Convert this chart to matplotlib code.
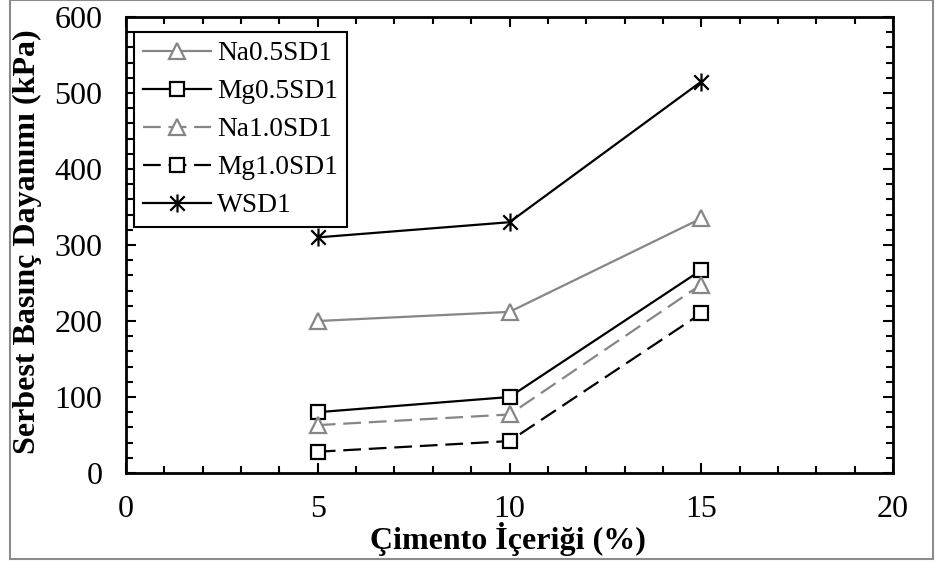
import matplotlib
matplotlib.use("Agg")
import matplotlib.pyplot as plt
from matplotlib.path import Path
from matplotlib.patches import Rectangle
from matplotlib.ticker import MultipleLocator

plt.rcParams['font.family'] = ['Liberation Serif', 'DejaVu Serif']

# values
cement = [5, 10, 15]
na05 = [200, 212, 335]
mg05 = [80, 100, 267]
na10 = [63, 77, 248]
mg10 = [28, 42, 210]
wsd1 = [310, 330, 515]

labels = ['Na0.5SD1', 'Mg0.5SD1', 'Na1.0SD1', 'Mg1.0SD1', 'WSD1']
x_label = 'Çimento İçeriği (%)'
y_label = 'Serbest Basınç Dayanımı (kPa)'

W, H = 940, 565
fig = plt.figure(figsize=(W / 100, H / 100), dpi=100)
ax = fig.add_axes([126 / W, 1 - 473 / H, (893 - 126) / W, (473 - 17) / H])

gray = '#868686'
dash = (0, (8, 3.5))
star = Path([(-0.8, -0.8), (0.8, 0.8), (-0.8, 0.8), (0.8, -0.8), (0, -1), (0, 1)],
            [Path.MOVETO, Path.LINETO, Path.MOVETO, Path.LINETO,
             Path.MOVETO, Path.LINETO])

ax.plot(cement, na05, color=gray, lw=1.6, marker='^', ms=12,
        mfc='white', mec=gray, mew=1.6, label=labels[0])
ax.plot(cement, mg05, color='black', lw=1.6, marker='s', ms=10,
        mfc='white', mec='black', mew=1.6, label=labels[1])
ax.plot(cement, na10, color=gray, lw=1.6, ls=dash, marker='^', ms=12,
        mfc='white', mec=gray, mew=1.6, label=labels[2])
ax.plot(cement, mg10, color='black', lw=1.6, ls=dash, marker='s', ms=10,
        mfc='white', mec='black', mew=1.6, label=labels[3])
ax.plot(cement, wsd1, color='black', lw=1.6, marker=star, ms=13,
        mfc='none', mec='black', mew=1.6, label=labels[4])

ax.set_xlim(0, 20)
ax.set_ylim(0, 600)
ax.xaxis.set_major_locator(MultipleLocator(5))
ax.xaxis.set_minor_locator(MultipleLocator(1))
ax.yaxis.set_major_locator(MultipleLocator(100))
ax.yaxis.set_minor_locator(MultipleLocator(20))
ax.tick_params(which='both', direction='in', top=True, right=True,
               width=1.5, labelsize=23)
ax.tick_params(which='major', length=7)
ax.tick_params(which='minor', length=5)
ax.tick_params(axis='x', pad=16)
ax.tick_params(axis='y', pad=17)
for s in ax.spines.values():
    s.set_linewidth(2)

fig.text(508 / W, 1 - 549 / H, x_label, ha='center', va='baseline',
         fontsize=23, fontweight='bold')
fig.text(27 / W, 1 - 242 / H, y_label, ha='center', va='center',
         rotation=90, fontsize=23, fontweight='bold')

leg = ax.legend(loc='upper left', bbox_to_anchor=(134 / W, 1 - 32 / H),
                bbox_transform=fig.transFigure, borderaxespad=0,
                fontsize=19.7, handlelength=2.5, handletextpad=0.2,
                labelspacing=0.47, borderpad=0.33, fancybox=False,
                framealpha=1, edgecolor='black')
leg.get_frame().set_linewidth(1.5)

fig.patches.append(Rectangle((10 / W, 1 - 559 / H), 923 / W, 559 / H,
                             transform=fig.transFigure, fill=False,
                             edgecolor='#8c8c8c', lw=1.5))

fig.savefig('out.png', dpi=100)
